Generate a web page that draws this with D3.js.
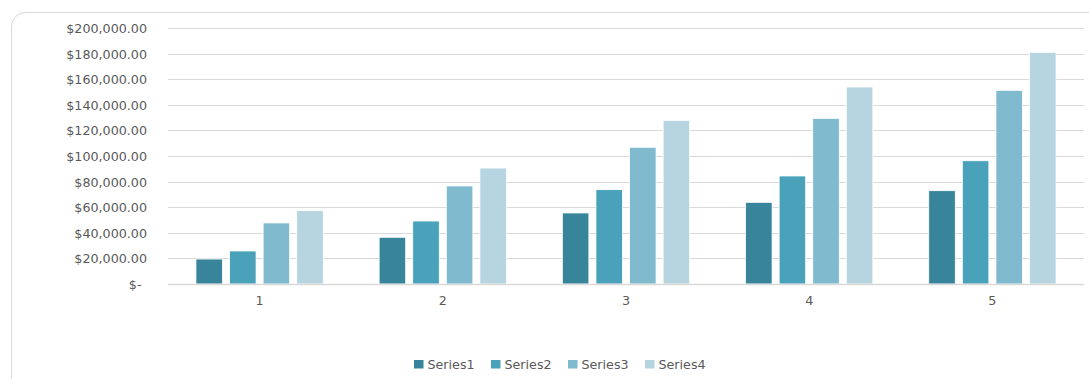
<!DOCTYPE html>
<html>
<head>
<meta charset="utf-8">
<script src="https://cdn.jsdelivr.net/npm/d3@7/dist/d3.min.js"></script>
<style>
  html, body { margin: 0; padding: 0; background: #fff; }
  svg { display: block; }
  text { font-family: "DejaVu Sans", sans-serif; fill: #595959; }
</style>
</head>
<body>
<svg id="chart" width="1089" height="379"></svg>
<script>
// Categories and series values
const categories = ["1", "2", "3", "4", "5"];
const seriesNames = ["Series1", "Series2", "Series3", "Series4"];
const series1 = [19500, 36500, 55500, 63800, 72900];
const series2 = [25800, 49200, 73700, 84400, 96300];
const series3 = [47700, 76600, 106800, 129400, 151300];
const series4 = [57300, 90600, 127800, 153900, 181000];
const seriesValues = [series1, series2, series3, series4];
const yTicks = [0, 20000, 40000, 60000, 80000, 100000, 120000, 140000, 160000, 180000, 200000];
const colors = ["#38849A", "#49A2BA", "#7FBACE", "#B7D5E0"];

const svg = d3.select("#chart");

// Chart area frame (rounded, runs off the right and bottom edges)
svg.append("rect")
  .attr("x", 11.5).attr("y", 12.5)
  .attr("width", 1110).attr("height", 390)
  .attr("rx", 14).attr("ry", 14)
  .attr("fill", "#fff")
  .attr("stroke", "#d9d9d9")
  .attr("stroke-width", 1);

const plot = { left: 168, right: 1084, top: 28, bottom: 284 };

const x0 = d3.scaleBand()
  .domain(categories)
  .range([plot.left, plot.right])
  .paddingInner(0.305)
  .paddingOuter(0.1525);

const x1 = d3.scaleBand()
  .domain(seriesNames)
  .range([0, x0.bandwidth()])
  .paddingInner(0.21)
  .paddingOuter(0);

const y = d3.scaleLinear()
  .domain([0, 200000])
  .range([plot.bottom, plot.top]);

const fmt = v => v === 0 ? "$-" : "$" + d3.format(",.2f")(v);

// Gridlines
svg.append("g")
  .selectAll("line")
  .data(yTicks.filter(t => t > 0))
  .join("line")
  .attr("x1", plot.left).attr("x2", plot.right)
  .attr("y1", d => Math.round(y(d)) + 0.5)
  .attr("y2", d => Math.round(y(d)) + 0.5)
  .attr("stroke", "#d9d9d9")
  .attr("stroke-width", 1.2);

// Y axis labels
const yAxis = d3.axisLeft(y).tickValues(yTicks).tickFormat(fmt).tickSize(0).tickPadding(0);
const gy = svg.append("g")
  .attr("transform", `translate(147,0)`)
  .call(yAxis);
gy.select(".domain").remove();
gy.selectAll("text")
  .attr("font-family", "DejaVu Sans, sans-serif")
  .attr("font-size", "12.7px")
  .attr("fill", "#595959")
  .attr("dy", "0.36em");
gy.selectAll(".tick").filter(d => d === 0).select("text").attr("x", -5.5);

// Bars
const groups = svg.append("g")
  .selectAll("g")
  .data(categories)
  .join("g")
  .attr("transform", d => `translate(${x0(d)},0)`);

groups.selectAll("rect")
  .data((c, i) => seriesNames.map((s, k) => ({ s, k, v: seriesValues[k][i] })))
  .join("rect")
  .attr("x", d => x1(d.s))
  .attr("y", d => y(d.v))
  .attr("width", x1.bandwidth())
  .attr("height", d => y(0) - y(d.v))
  .attr("fill", d => colors[d.k])
  .attr("stroke", "#ffffff")
  .attr("stroke-width", 0.8);

// Category axis
const xAxis = d3.axisBottom(x0).tickSize(0).tickPadding(0);
const gx = svg.append("g")
  .attr("transform", `translate(0,${plot.bottom})`)
  .call(xAxis);
gx.select(".domain")
  .attr("d", `M${plot.left},0.5H${plot.right}`)
  .attr("stroke", "#d9d9d9")
  .attr("stroke-width", 1.5);
gx.selectAll("text")
  .attr("font-family", "DejaVu Sans, sans-serif")
  .attr("font-size", "12.7px")
  .attr("fill", "#595959")
  .attr("y", 21)
  .attr("dy", 0);

// Legend
const legendX = d3.scalePoint().domain(seriesNames).range([414, 645]);
const legend = svg.append("g")
  .selectAll("g")
  .data(seriesNames)
  .join("g")
  .attr("transform", d => `translate(${legendX(d)},360)`);
legend.append("rect")
  .attr("width", 9.5).attr("height", 8.5)
  .attr("fill", (d, i) => colors[i]);
legend.append("text")
  .attr("x", 13.5).attr("y", 8.5)
  .attr("font-size", "12.7px")
  .text(d => d);
</script>
</body>
</html>
